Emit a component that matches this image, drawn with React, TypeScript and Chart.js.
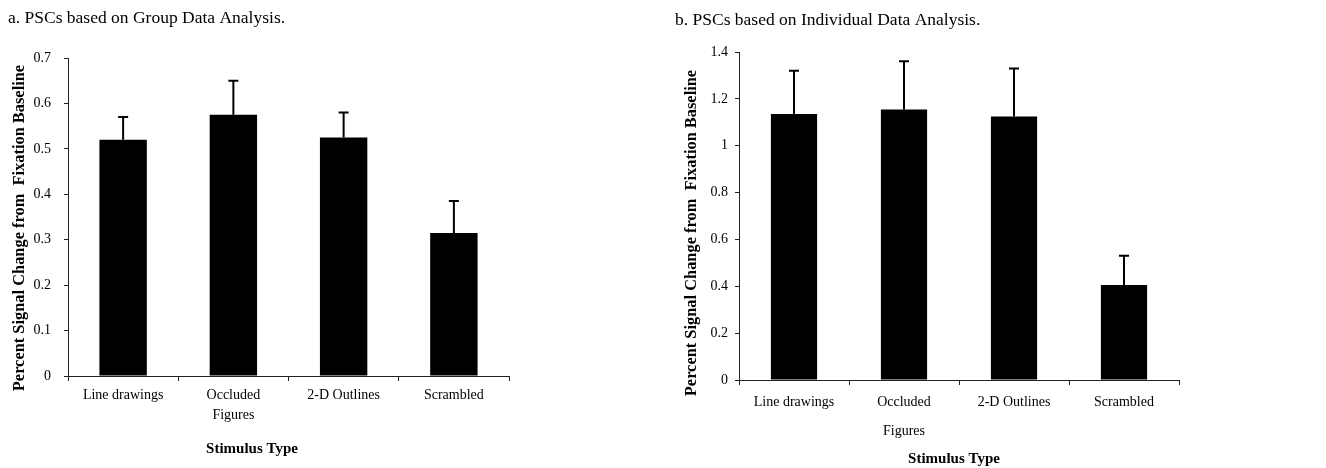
import React, { useEffect, useRef } from 'react';
import { Chart, registerables } from 'chart.js';

Chart.register(...registerables);

// ---- Data ----
const categories: (string | string[])[] = ['Line drawings', ['Occluded', 'Figures'], '2-D Outlines', 'Scrambled'];

const groupValues = [0.52, 0.575, 0.525, 0.315];
const groupErrors = [0.05, 0.075, 0.055, 0.07];
const groupYMax = 0.7;
const groupYStep = 0.1;

const indivValues = [1.135, 1.155, 1.125, 0.405];
const indivErrors = [0.185, 0.205, 0.205, 0.125];
const indivYMax = 1.4;
const indivYStep = 0.2;

const titleA = 'a. PSCs based on Group Data Analysis.';
const titleB = 'b. PSCs based on Individual Data Analysis.';
const yTitle = 'Percent Signal Change from  Fixation Baseline';
const xTitle = 'Stimulus Type';

const SERIF = "'Liberation Serif', 'Times New Roman', Times, serif";

// ---- Plugins ----
const errorBarPlugin = {
  id: 'errorBars',
  afterDatasetsDraw(chart: any, _args: any, opts: any) {
    const { ctx } = chart;
    const xs = chart.scales.x;
    const ys = chart.scales.y;
    const vals: number[] = chart.data.datasets[0].data;
    const errs: number[] = opts.errors || [];
    const cap = opts.capWidth ?? 10;
    ctx.save();
    ctx.strokeStyle = opts.color || '#000';
    ctx.lineWidth = opts.lineWidth ?? 2;
    vals.forEach((v, i) => {
      const px = xs.getPixelForValue(i);
      const y0 = ys.getPixelForValue(v);
      const y1 = ys.getPixelForValue(v + errs[i]);
      ctx.beginPath();
      ctx.moveTo(px, y0);
      ctx.lineTo(px, y1);
      ctx.moveTo(px - cap / 2, y1);
      ctx.lineTo(px + cap / 2, y1);
      ctx.stroke();
    });
    ctx.restore();
  },
};

const freeTextPlugin = {
  id: 'freeText',
  afterDraw(chart: any, _args: any, opts: any) {
    const { ctx } = chart;
    (opts.items || []).forEach((it: any) => {
      ctx.save();
      ctx.translate(it.x, it.y);
      if (it.rotation) ctx.rotate(it.rotation);
      ctx.font = it.font;
      ctx.fillStyle = '#000';
      ctx.textAlign = 'center';
      ctx.textBaseline = 'middle';
      ctx.fillText(it.text, 0, 0);
      ctx.restore();
    });
  },
};

type PanelCfg = {
  width: number;
  title: string;
  values: number[];
  errors: number[];
  yMax: number;
  yStep: number;
  padLeft: number;
  padRight: number;
  yAxisWidth: number;
  xAxisHeight: number;
  titlePadTop: number;
  titlePadBottom: number;
  tickLineHeight: number;
  tickPadding: number;
  yTickPadding: number;
  yTitlePos: { x: number; y: number };
  xTitlePos: { x: number; y: number };
  barPct: number;
};

function Panel({ cfg }: { cfg: PanelCfg }) {
  const ref = useRef<HTMLCanvasElement | null>(null);
  useEffect(() => {
    if (!ref.current) return;
    const chart = new Chart(ref.current, {
      type: 'bar',
      data: {
        labels: categories as any,
        datasets: [
          {
            data: cfg.values,
            backgroundColor: '#000',
            borderWidth: 0,
            barPercentage: cfg.barPct,
            categoryPercentage: 1,
          },
        ],
      },
      options: {
        responsive: false,
        animation: false,
        devicePixelRatio: 1,
        layout: { padding: { left: cfg.padLeft, right: cfg.padRight, top: 0, bottom: 0 } },
        plugins: {
          legend: { display: false },
          tooltip: { enabled: false },
          title: {
            display: true,
            text: cfg.title,
            align: 'start',
            color: '#000',
            font: { family: SERIF, size: 17.5, weight: 'normal', lineHeight: 1.2 },
            padding: { top: cfg.titlePadTop, bottom: cfg.titlePadBottom },
          },
          errorBars: { errors: cfg.errors, capWidth: 10, lineWidth: 2 },
          freeText: {
            items: [
              {
                text: yTitle,
                x: cfg.yTitlePos.x,
                y: cfg.yTitlePos.y,
                rotation: -Math.PI / 2,
                font: `bold 16.4px ${SERIF}`,
              },
              {
                text: xTitle,
                x: cfg.xTitlePos.x,
                y: cfg.xTitlePos.y,
                font: `bold 15px ${SERIF}`,
              },
            ],
          },
        } as any,
        scales: {
          x: {
            offset: true,
            grid: {
              display: true,
              offset: true,
              drawOnChartArea: false,
              drawTicks: true,
              tickLength: 5,
              color: '#222',
            },
            border: { display: true, color: '#222', width: 1 },
            ticks: {
              color: '#000',
              padding: cfg.tickPadding,
              maxRotation: 0,
              autoSkip: false,
              font: { family: SERIF, size: 14, lineHeight: cfg.tickLineHeight },
            },
            afterFit: (s: any) => {
              s.height = cfg.xAxisHeight;
            },
          },
          y: {
            min: 0,
            max: cfg.yMax,
            grid: {
              display: true,
              drawOnChartArea: false,
              drawTicks: true,
              tickLength: 4,
              color: '#222',
            },
            border: { display: true, color: '#222', width: 1 },
            ticks: {
              stepSize: cfg.yStep,
              color: '#000',
              padding: cfg.yTickPadding,
              font: { family: SERIF, size: 14 },
              callback: (v: any) => String(Number(Number(v).toFixed(2))),
            },
            afterFit: (s: any) => {
              s.width = cfg.yAxisWidth;
            },
          },
        },
      },
      plugins: [errorBarPlugin, freeTextPlugin],
    });
    return () => chart.destroy();
  }, [cfg]);
  return <canvas ref={ref} width={cfg.width} height={468} style={{ display: 'block' }} />;
}

const panelA: PanelCfg = {
  width: 660,
  title: titleA,
  values: groupValues,
  errors: groupErrors,
  yMax: groupYMax,
  yStep: groupYStep,
  padLeft: 8,
  padRight: 151,
  yAxisWidth: 60,
  xAxisHeight: 92,
  titlePadTop: 8,
  titlePadBottom: 29,
  tickLineHeight: 1.45,
  tickPadding: 4,
  yTickPadding: 13,
  yTitlePos: { x: 20, y: 228 },
  xTitlePos: { x: 252, y: 449 },
  barPct: 0.43,
};

const panelB: PanelCfg = {
  width: 666,
  title: titleB,
  values: indivValues,
  errors: indivErrors,
  yMax: indivYMax,
  yStep: indivYStep,
  padLeft: 15,
  padRight: 147,
  yAxisWidth: 64,
  xAxisHeight: 88,
  titlePadTop: 10,
  titlePadBottom: 21,
  tickLineHeight: 2.07,
  tickPadding: 3,
  yTickPadding: 7,
  yTitlePos: { x: 32, y: 233 },
  xTitlePos: { x: 294, y: 459 },
  barPct: 0.42,
};

export default function App() {
  return (
    <div style={{ position: 'absolute', left: 0, top: 0, width: 1326, height: 468, background: '#fff' }}>
      <div style={{ position: 'absolute', left: 0, top: 0 }}>
        <Panel cfg={panelA} />
      </div>
      <div style={{ position: 'absolute', left: 660, top: 0 }}>
        <Panel cfg={panelB} />
      </div>
    </div>
  );
}
